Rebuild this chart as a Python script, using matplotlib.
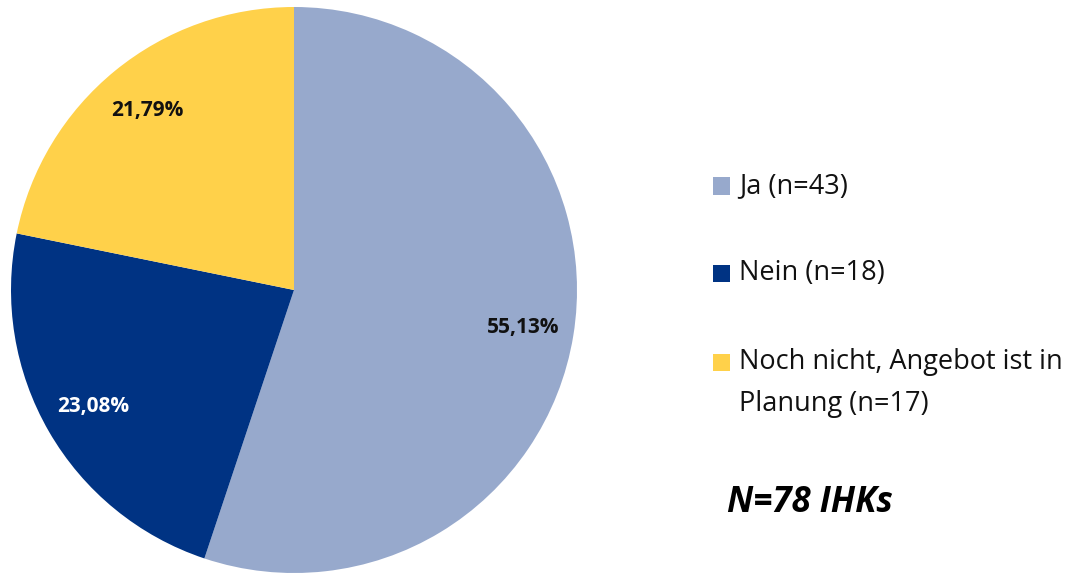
import matplotlib.pyplot as plt
from matplotlib.patches import Rectangle

# Daten
labels = ['Ja (n=43)', 'Nein (n=18)', 'Noch nicht, Angebot ist in\nPlanung (n=17)']
counts = [43, 18, 17]
colors = ['#97A9CC', '#003383', '#FFD14A']
pct_colors = ['#111111', 'white', '#111111']

plt.rcParams['font.family'] = ['Open Sans', 'DejaVu Sans']

W, H = 1074, 573
fig = plt.figure(figsize=(W / 100, H / 100), dpi=100)
ax = fig.add_axes([11 / W, 0, 566 / W, 566 / H])

wedges, texts, autotexts = ax.pie(
    counts, colors=colors, startangle=90, counterclock=False, radius=1,
    autopct=lambda p: f'{p:.2f}%'.replace('.', ','), pctdistance=0.82,
    textprops=dict(fontsize=15, fontweight='bold'))
for t, c in zip(autotexts, pct_colors):
    t.set_color(c)
ax.set_xlim(-1, 1)
ax.set_ylim(-1, 1)
ax.set_aspect('equal')

# Legende (rechts, manuell gesetzt)
legend_y = [186, 273, 362]
line_gap = 42
sq = 17
for lab, col, y in zip(labels, colors, legend_y):
    fig.patches.append(Rectangle((713 / W, 1 - (y + sq / 2) / H), sq / W, sq / H,
                                 transform=fig.transFigure, facecolor=col,
                                 edgecolor='none'))
    for i, line in enumerate(lab.split('\n')):
        fig.text(739 / W, 1 - (y + i * line_gap) / H, line, fontsize=19.5,
                 va='center', ha='left', color='#111111')

fig.text(727 / W, 1 - 503 / H, 'N=78 IHKs', fontsize=25, fontweight='bold',
         fontstyle='italic', va='center', ha='left')

fig.savefig('out.png', dpi=100)
